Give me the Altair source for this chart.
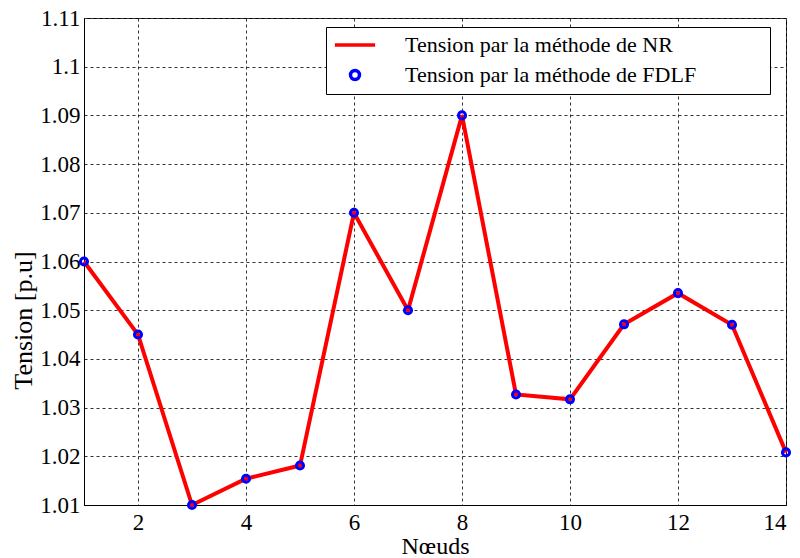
import altair as alt
import pandas as pd

nodes = list(range(1, 15))
v_nr = [1.060, 1.045, 1.010, 1.0154, 1.0181, 1.070, 1.050, 1.090,
        1.0327, 1.0317, 1.0471, 1.0535, 1.0470, 1.0208]
v_fdlf = [1.060, 1.045, 1.010, 1.0154, 1.0181, 1.070, 1.050, 1.090,
          1.0327, 1.0317, 1.0471, 1.0535, 1.0470, 1.0208]
label_nr = "Tension par la méthode de NR"
label_fdlf = "Tension par la méthode de FDLF"
x_ticks = [2, 4, 6, 8, 10, 12, 14]
y_ticks = [1.01, 1.02, 1.03, 1.04, 1.05, 1.06, 1.07, 1.08, 1.09, 1.10, 1.11]

df = pd.DataFrame({
    "node": nodes + nodes,
    "v": v_nr + v_fdlf,
    "series": [label_nr] * len(nodes) + [label_fdlf] * len(nodes),
})

FONT = "Liberation Serif"
PAD = "\u00a0" * 12 + "\u200b"

leg = alt.Legend(
    title=None, orient="none", legendX=242, legendY=9,
    fillColor="white", strokeColor="black", padding=7,
    labelFont=FONT, labelFontSize=22, labelColor="black",
    labelExpr="datum.label + '" + PAD + "'",
    symbolStrokeWidth=3.5, symbolSize=80, symbolOffset=11, labelOffset=39,
    rowPadding=7, labelLimit=600,
)
color = alt.Color("series:N",
                  scale=alt.Scale(domain=[label_nr, label_fdlf], range=["#ff0000", "#0000ff"]),
                  legend=leg)
shape = alt.Shape("series:N",
                  scale=alt.Scale(domain=[label_nr, label_fdlf], range=["M-4.5,0H4.5", "circle"]),
                  legend=leg)

x = alt.X("node:Q", scale=alt.Scale(domain=[1, 14], nice=False, zero=False),
          axis=alt.Axis(values=x_ticks, title="Nœuds", format="d",
                        labelPadding=6, titlePadding=0, titleFontSize=24))
y = alt.Y("v:Q", scale=alt.Scale(domain=[1.01, 1.11], nice=False, zero=False),
          axis=alt.Axis(values=y_ticks, title="Tension [p.u]",
                        labelExpr="format(datum.value, '.2~f')",
                        labelPadding=4, titleX=-61, titleY=302, titleFontSize=26,
                        titleAlign="center", titleBaseline="middle"))

line = alt.Chart(df).transform_filter(alt.datum.series == label_nr).mark_line(
    strokeWidth=4).encode(x=x, y=y, color=color)
pts = alt.Chart(df).transform_filter(alt.datum.series == label_fdlf).mark_point(
    filled=False, size=50, strokeWidth=3, shape="circle", opacity=1).encode(
    x=x, y=y, color=color, shape=shape)

chart = alt.layer(line, pts).properties(
    width=702, height=487,
    autosize=alt.AutoSizeParams(type="none"),
    padding={"left": 84, "top": 18, "right": 14, "bottom": 53},
).configure_view(stroke="black", strokeWidth=1).configure_axis(
    labelFont=FONT, labelFontSize=23, labelColor="black",
    titleFont=FONT, titleColor="black", titleFontWeight="normal",
    domainColor="black", ticks=False,
    gridColor="#333333", gridDash=[3, 3], gridWidth=1, gridOpacity=1,
)

chart.save("out.html", embed_options={"renderer": "svg", "actions": False})
